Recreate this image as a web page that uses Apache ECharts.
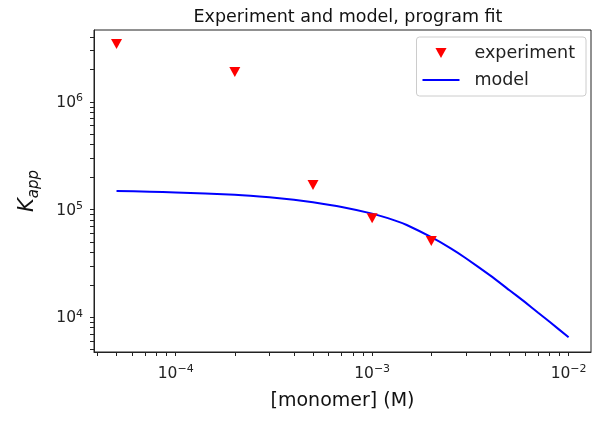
<!DOCTYPE html>
<html>
<head>
<meta charset="utf-8">
<script src="https://cdn.jsdelivr.net/npm/echarts@6/dist/echarts.min.js"></script>
<style>
  html, body { margin: 0; padding: 0; background: #fff; }
  #main { width: 601px; height: 424px; }
</style>
</head>
<body>
<div id="main"></div>
<script>
// experiment points
var expX = [5e-5, 2e-4, 5e-4, 1e-3, 2e-3];
var expY = [3.44e6, 1.89e6, 1.69e5, 8.3e4, 5.1e4];

// model curve
var modelX = [5e-5, 7.4e-5, 1e-4, 2e-4, 3e-4, 4e-4, 5e-4, 7e-4, 1e-3, 1.3e-3, 1.5e-3, 2e-3, 2.5e-3, 3e-3, 4e-3, 5e-3, 6e-3, 7e-3, 8e-3, 1e-2];
var modelY = [1.489e5, 1.466e5, 1.442e5, 1.374e5, 1.303e5, 1.233e5, 1.169e5, 1.057e5, 9.16e4, 7.93e4, 7.18e4, 5.53e4, 4.38e4, 3.53e4, 2.43e4, 1.78e4, 1.38e4, 1.10e4, 9.06e3, 6.5e3];

// ticks
var xMajor = [1e-4, 1e-3, 1e-2];
var xMinor = [4e-5, 5e-5, 6e-5, 7e-5, 8e-5, 9e-5, 2e-4, 3e-4, 4e-4, 5e-4, 6e-4, 7e-4, 8e-4, 9e-4,
              2e-3, 3e-3, 4e-3, 5e-3, 6e-3, 7e-3, 8e-3, 9e-3];
var yMajor = [1e4, 1e5, 1e6];
var yMinor = [5e3, 6e3, 7e3, 8e3, 9e3, 2e4, 3e4, 4e4, 5e4, 6e4, 7e4, 8e4, 9e4,
              2e5, 3e5, 4e5, 5e5, 6e5, 7e5, 8e5, 9e5, 2e6, 3e6, 4e6];

var chart = echarts.init(document.getElementById('main'));

function pair(xs, ys) {
    var out = [];
    for (var i = 0; i < xs.length; i++) out.push([xs[i], ys[i]]);
    return out;
}

function powLabel(v) {
    var e = Math.round(Math.log(v) / Math.LN10);
    return '{b|10}{s|' + (e < 0 ? '\u2212' + (-e) : e) + '}';
}

var font = 'DejaVu Sans';
var labelRich = {
    b: { fontSize: 15.5, color: '#222', fontFamily: font, verticalAlign: 'bottom' },
    s: { fontSize: 11, color: '#222', fontFamily: font, verticalAlign: 'bottom', padding: [0, 0, 7, 0] }
};

var downTri = 'path://M0,0 L10,0 L5,9 Z';
var lineIcon = 'path://M0,0 L37,0 L37,2 L0,2 Z';

var option = {
    animation: false,
    title: {
        text: 'Experiment and model, program fit',
        left: 343,
        textAlign: 'center',
        top: 3,
        textStyle: { fontSize: 17.5, fontWeight: 'normal', color: '#111', fontFamily: font }
    },
    legend: {
        right: 15,
        top: 37,
        orient: 'vertical',
        itemWidth: 37,
        itemHeight: 10,
        itemGap: 9,
        padding: [7, 11, 7, 6],
        borderColor: '#ccc',
        borderWidth: 1,
        borderRadius: 3,
        textStyle: { fontSize: 17.5, color: '#222', fontFamily: font, padding: [0, 0, 0, 10] },
        data: [
            { name: 'experiment', icon: downTri },
            { name: 'model', icon: lineIcon }
        ]
    },
    grid: {
        left: 94, right: 10, top: 30, bottom: 72,
        show: true, borderColor: '#222', borderWidth: 1
    },
    xAxis: {
        type: 'log',
        logBase: 10,
        min: 3.84e-5,
        max: 1.3e-2,
        name: '[monomer] (M)',
        nameLocation: 'middle',
        nameGap: 40,
        nameTextStyle: { fontSize: 19, color: '#111', fontFamily: font },
        axisLine: { lineStyle: { color: '#222' } },
        splitLine: { show: false },
        axisTick: { customValues: xMajor.concat(xMinor), length: 4, lineStyle: { color: '#222' } },
        axisLabel: { customValues: xMajor, formatter: powLabel, rich: labelRich, margin: 12 }
    },
    yAxis: {
        type: 'log',
        logBase: 10,
        min: 4.75e3,
        max: 4.65e6,
        name: '{k|K}{sub|app}',
        nameLocation: 'middle',
        nameGap: 56,
        nameTextStyle: {
            rich: {
                k: { fontSize: 21, fontStyle: 'italic', color: '#111', fontFamily: font, verticalAlign: 'bottom' },
                sub: { fontSize: 15, fontStyle: 'italic', color: '#111', fontFamily: font, verticalAlign: 'bottom', padding: [0, 0, -4, 0] }
            }
        },
        axisLine: { show: true, lineStyle: { color: '#222' } },
        splitLine: { show: false },
        axisTick: { show: true, customValues: yMajor.concat(yMinor), length: 4, lineStyle: { color: '#222' } },
        axisLabel: { customValues: yMajor, formatter: powLabel, rich: labelRich, margin: 11 }
    },
    series: [
        {
            name: 'experiment',
            type: 'scatter',
            symbol: downTri,
            symbolSize: [11, 10],
            itemStyle: { color: '#ff0000', opacity: 1 },
            data: pair(expX, expY),
            z: 3
        },
        {
            name: 'model',
            type: 'line',
            showSymbol: false,
            symbol: 'none',
            smooth: 0.15,
            lineStyle: { color: '#0000ff', width: 2 },
            itemStyle: { color: '#0000ff' },
            data: pair(modelX, modelY),
            z: 2
        }
    ]
};

chart.setOption(option);
</script>
</body>
</html>
